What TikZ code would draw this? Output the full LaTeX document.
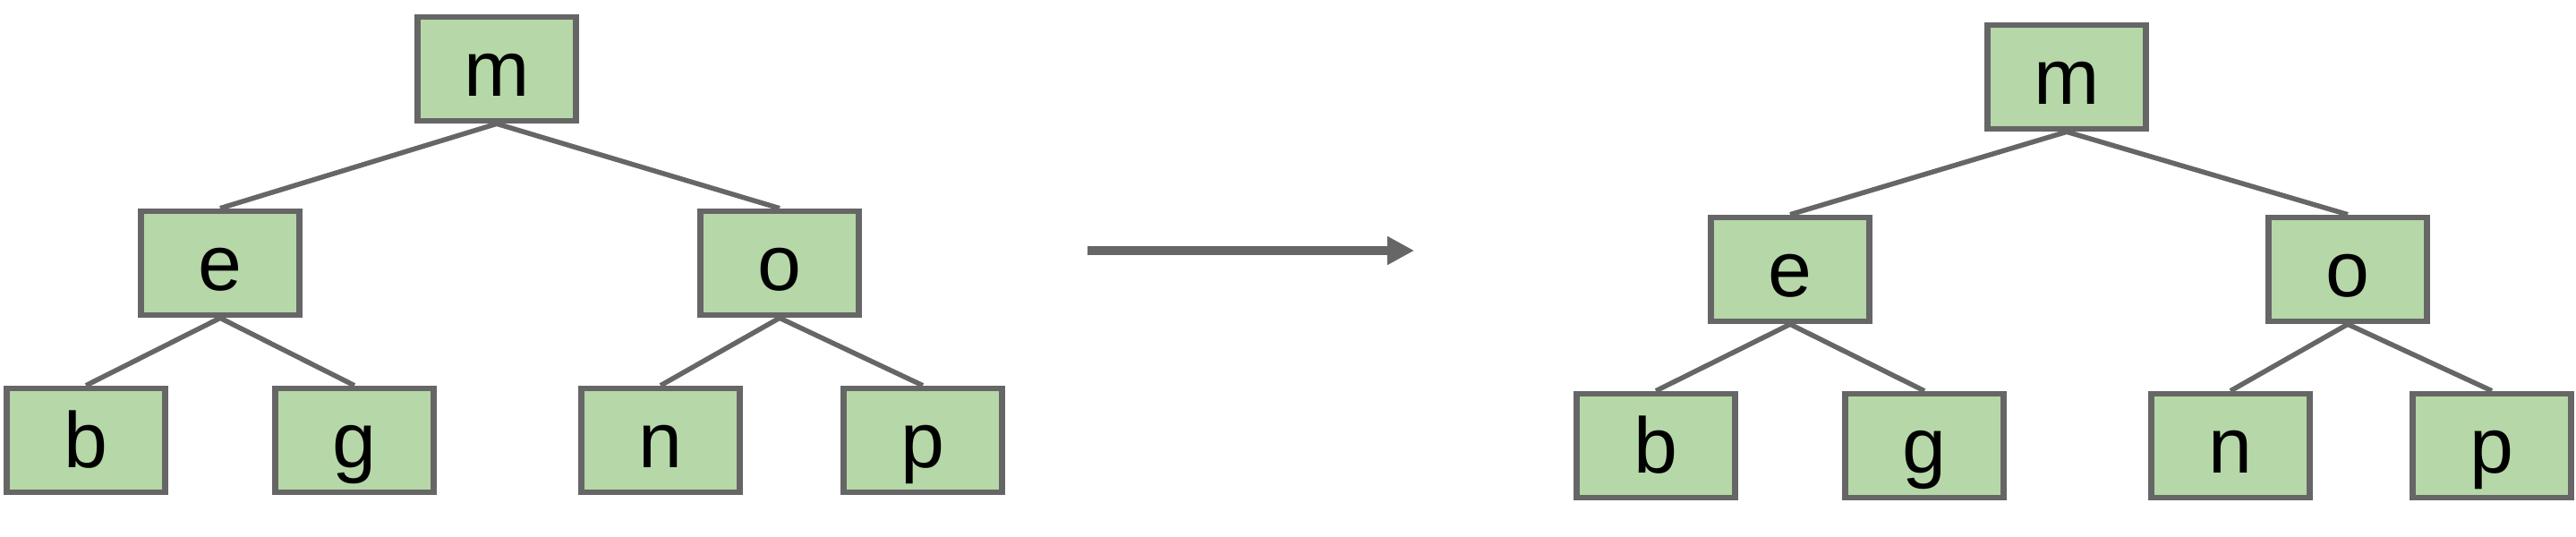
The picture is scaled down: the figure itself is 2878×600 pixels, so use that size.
\documentclass[tikz,border=0pt]{standalone}
\usepackage{fontspec}
\setmainfont{Liberation Sans}
\usetikzlibrary{arrows.meta}
\definecolor{boxfill}{HTML}{B6D7A8}
\definecolor{boxline}{HTML}{666666}
\tikzset{
  treebox/.style={draw=boxline, fill=boxfill, line width=0.065cm, rectangle,
    minimum width=1.77cm, minimum height=1.16cm, inner sep=0pt,
    text height=0.6cm, text depth=0cm,
    font=\fontsize{25}{30}\selectfont},
  treeedge/.style={draw=boxline, line width=0.055cm},
  bigarrow/.style={draw=boxline, line width=0.1cm, -{Triangle[length=0.3cm,width=0.3cm]}}
}
\begin{document}
\begin{tikzpicture}[x=0.01cm,y=-0.01cm]
\useasboundingbox (0,0) rectangle (2878,600);
% left tree
\node[treebox] (Lm) at (555,77) {m};
\node[treebox] (Le) at (246,294) {e};
\node[treebox] (Lo) at (871,294) {o};
\node[treebox] (Lb) at (96,492) {b};
\node[treebox] (Lg) at (396,492) {g};
\node[treebox] (Ln) at (738,492) {n};
\node[treebox] (Lp) at (1031,492) {p};
\draw[treeedge] (Lm.south) -- (Le.north);
\draw[treeedge] (Lm.south) -- (Lo.north);
\draw[treeedge] (Le.south) -- (Lb.north);
\draw[treeedge] (Le.south) -- (Lg.north);
\draw[treeedge] (Lo.south) -- (Ln.north);
\draw[treeedge] (Lo.south) -- (Lp.north);
% arrow
\coordinate (a1) at (1215,280);
\coordinate (a2) at (1580,280);
\draw[bigarrow] (a1) -- (a2);
% right tree
\node[treebox] (Rm) at (2309,86) {m};
\node[treebox] (Re) at (2000,301) {e};
\node[treebox] (Ro) at (2623,301) {o};
\node[treebox] (Rb) at (1850,498) {b};
\node[treebox] (Rg) at (2150,498) {g};
\node[treebox] (Rn) at (2492,498) {n};
\node[treebox] (Rp) at (2784,498) {p};
\draw[treeedge] (Rm.south) -- (Re.north);
\draw[treeedge] (Rm.south) -- (Ro.north);
\draw[treeedge] (Re.south) -- (Rb.north);
\draw[treeedge] (Re.south) -- (Rg.north);
\draw[treeedge] (Ro.south) -- (Rn.north);
\draw[treeedge] (Ro.south) -- (Rp.north);
\end{tikzpicture}
\end{document}
